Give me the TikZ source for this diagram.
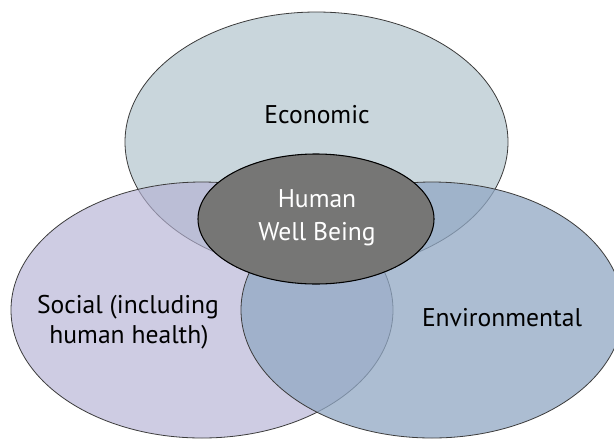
\documentclass[tikz,border=0pt]{standalone}
\usepackage{fontspec}
\setmainfont{PT Sans}
\definecolor{topc}{RGB}{201,214,220}
\definecolor{leftc}{RGB}{181,178,212}
\definecolor{rightc}{RGB}{145,168,196}
\definecolor{humanc}{RGB}{118,118,117}
\definecolor{edgec}{RGB}{60,60,60}
\begin{document}
\begin{tikzpicture}[x=0.75pt,y=-0.75pt,
  circ/.style={draw=edgec,line width=0.6pt},
  lbl/.style={anchor=base,inner sep=0pt,font=\fontsize{19.2pt}{22pt}\selectfont},
  wlbl/.style={lbl,text=white}]
\useasboundingbox (0,0) rectangle (614,440);
\fill[white] (0,0) rectangle (614,440);
\filldraw[circ,fill=topc] (316.5,142) ellipse [x radius=191.5, y radius=130];
\filldraw[circ,fill=leftc,fill opacity=0.65] (202,310) ellipse [x radius=191, y radius=128];
\filldraw[circ,fill=rightc,fill opacity=0.75] (432,310) ellipse [x radius=191, y radius=128];
\filldraw[draw=black,line width=0.8pt,fill=humanc] (316,219) ellipse [x radius=118, y radius=65];
\node[lbl] (econ) at (317,123) {Economic};
\node[wlbl] (hum1) at (317,207) {Human};
\node[wlbl] (hum2) at (317,240) {Well Being};
\node[lbl] (soc1) at (128,313) {Social (including};
\node[lbl] (soc2) at (129,343) {human health)};
\node[lbl] (env) at (502,326) {Environmental};
\end{tikzpicture}
\end{document}
